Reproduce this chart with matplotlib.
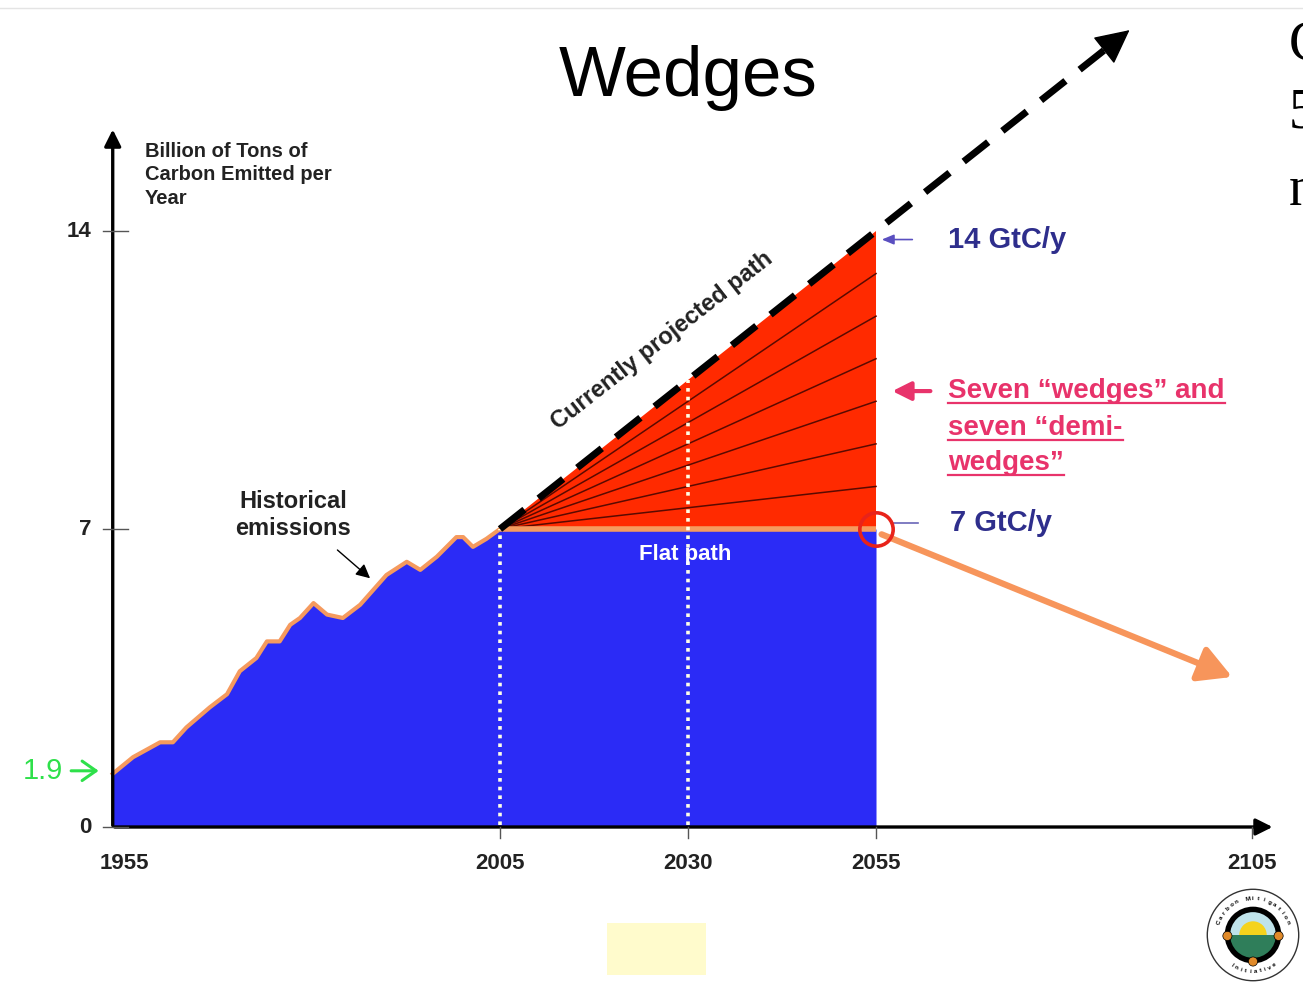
import numpy as np
import matplotlib
matplotlib.use("Agg")
import matplotlib.pyplot as plt
from matplotlib.patches import Polygon, Rectangle, Circle, Wedge

# --- data (GtC per year) ---
hist_years = [1953.5, 1956.2, 1959.8, 1961.5, 1963.3, 1966.4, 1968.7, 1970.4, 1972.6,
              1974.0, 1975.7, 1977.1, 1978.4, 1980.2, 1982.0, 1984.1, 1986.4, 1989.9,
              1992.6, 1994.4, 1996.6, 1999.2, 2000.1, 2001.4, 2003.2, 2005.0]
hist_vals = [1.25, 1.64, 1.99, 1.99, 2.34, 2.81, 3.12, 3.66, 3.97,
             4.36, 4.36, 4.75, 4.91, 5.26, 4.99, 4.91, 5.22, 5.92,
             6.23, 6.04, 6.35, 6.81, 6.81, 6.58, 6.77, 7.0]

flat_years = [2005, 2055]
flat_vals = [7, 7]

proj_years = [2005, 2055, 2089]
proj_vals = [7, 14, 18.76]

wedge_ends = [8, 9, 10, 11, 12, 13]   # boundaries between the seven wedges at 2055
marker_years = [2005, 2030]           # dotted verticals

decline_years = [2055, 2102.7]
decline_vals = [7, 3.5]

xticks = [1955, 2005, 2030, 2055, 2105]
yticks = [0, 7, 14]

BLUE = "#2B2BF6"
RED = "#FF2A00"
ORANGE = "#F59A5E"
DARK = "#222222"
NAVY = "#2E2E8C"
PINK = "#E8336B"
GREEN = "#2EE04A"
SANS = ["Liberation Sans", "DejaVu Sans"]

fig = plt.figure(figsize=(13.03, 9.88), dpi=100)
ax = fig.add_axes([0, 0, 1, 1])
ax.set_xlim(1938.51, 2111.78)
ax.set_ylim(-3.782, 19.427)
ax.axis("off")

x0 = 1953.5  # where the vertical axis sits

# blue area: history + flat path
ax.fill_between(hist_years + flat_years[1:], hist_vals + flat_vals[1:], 0,
                color=BLUE, lw=0, zorder=1)

# red triangle between flat path and projection
tri = Polygon([(proj_years[0], proj_vals[0]), (proj_years[1], proj_vals[1]),
               (flat_years[1], flat_vals[1])], closed=True, fc=RED, ec="none", zorder=2)
ax.add_patch(tri)
for v in wedge_ends:
    ax.plot([proj_years[0], flat_years[1]], [proj_vals[0], v], color="#5a0a00",
            lw=1.1, zorder=3)

ax.plot(flat_years, flat_vals, color=ORANGE, lw=4, solid_capstyle="butt", zorder=4)
ax.plot(hist_years, hist_vals, color=ORANGE, lw=3, zorder=4)

for yr in marker_years:
    top = np.interp(yr, proj_years, proj_vals)
    ax.plot([yr, yr], [0.05, top], color="#FFFFE6", lw=2.6,
            linestyle=(0, (1.0, 1.4)), zorder=5)

# dashed projection with arrow head
end_yr = 2085.3
ax.plot([proj_years[0], proj_years[1], end_yr],
        [proj_vals[0], proj_vals[1], np.interp(end_yr, proj_years, proj_vals)],
        color="black", lw=5, linestyle=(0, (4.5, 2.6)), zorder=6)
ax.annotate("", xy=(proj_years[-1], proj_vals[-1]),
            xytext=(2084.5, np.interp(2084.5, proj_years, proj_vals)),
            arrowprops=dict(arrowstyle="-|>,head_length=1.1,head_width=0.55",
                            color="black", lw=1, mutation_scale=20), zorder=6)

# decline path
ax.annotate("", xy=(decline_years[1], decline_vals[1]),
            xytext=(decline_years[0] + 0.4, decline_vals[0] - 0.1),
            arrowprops=dict(arrowstyle="-|>,head_length=1.0,head_width=0.55",
                            color="#F7955B", lw=4.5, mutation_scale=20), zorder=5)
ax.plot(flat_years[1], flat_vals[1], "o", ms=24, mfc="none", mec="#E8231A",
        mew=2.6, zorder=7)

# axes with arrows
ax.annotate("", xy=(x0, 16.45), xytext=(x0, -0.03),
            arrowprops=dict(arrowstyle="-|>,head_length=0.5,head_width=0.25",
                            color="black", lw=2.4, mutation_scale=20), zorder=8)
ax.annotate("", xy=(2108.1, 0), xytext=(x0 - 0.1, 0),
            arrowprops=dict(arrowstyle="-|>,head_length=0.5,head_width=0.25",
                            color="black", lw=2.4, mutation_scale=20), zorder=8)
for v in yticks:
    ax.plot([x0 - 1.3, x0 + 2.0], [v, v], color="#555555", lw=1, zorder=8)
    ax.text(1950.7, v, str(v), ha="right", va="center", fontsize=16,
            fontweight="bold", color=DARK, family=SANS)
for yr in xticks:
    if yr != xticks[0]:
        ax.plot([yr, yr], [0, -0.25], color="#555555", lw=1, zorder=8)
    ax.text(yr, -0.85, str(yr), ha="center", va="center", fontsize=16,
            fontweight="bold", color=DARK, family=SANS)

# texts
ax.text(2030, 17.6, "Wedges", ha="center", va="center", fontsize=51,
        color="black", family=SANS)
ax.text(1957.8, 16.1, "Billion of Tons of\nCarbon Emitted per\nYear", ha="left",
        va="top", fontsize=14.5, fontweight="bold", color=DARK, family=SANS,
        linespacing=1.3)
ax.text(1977.5, 7.33, "Historical\nemissions", ha="center", va="center",
        fontsize=17, fontweight="bold", color=DARK, family=SANS, linespacing=1.2)
ax.annotate("", xy=(1988.0, 5.80), xytext=(1983.1, 6.55),
            arrowprops=dict(arrowstyle="-|>,head_length=0.6,head_width=0.3",
                            color="black", lw=1, mutation_scale=14))
ax.text(2026.6, 11.42, "Currently projected path", ha="center", va="center",
        rotation=38, rotation_mode="anchor", fontsize=17, fontweight="bold",
        color=DARK, family=SANS)
ax.text(2029.6, 6.41, "Flat path", ha="center", va="center", fontsize=16,
        fontweight="bold", color="white", family=SANS, zorder=9)
ax.text(1946.9, 1.32, "1.9", ha="right", va="center", fontsize=21,
        color=GREEN, family=SANS)
ax.annotate("", xy=(1952.0, 1.32), xytext=(1947.6, 1.32),
            arrowprops=dict(arrowstyle="->,head_length=0.5,head_width=0.35",
                            color=GREEN, lw=2.2, mutation_scale=20))

ax.text(2064.6, 13.8, "14 GtC/y", ha="left", va="center", fontsize=21,
        fontweight="bold", color=NAVY, family=SANS)
ax.annotate("", xy=(2055.4, 13.8), xytext=(2060.2, 13.8),
            arrowprops=dict(arrowstyle="-|>,head_length=0.6,head_width=0.25",
                            color="#5A4FC0", lw=1.2, mutation_scale=12))
ax.text(2064.8, 7.15, "7 GtC/y", ha="left", va="center", fontsize=21,
        fontweight="bold", color=NAVY, family=SANS)
ax.plot([2057.3, 2060.6], [7.15, 7.15], color="#6A66B8", lw=1.2)

pink_lines = ["Seven \u201cwedges\u201d and", "seven \u201cdemi-", "wedges\u201d"]
pink_base = [10.08, 9.21, 8.39]
pink_texts = []
for s, b in zip(pink_lines, pink_base):
    pink_texts.append(ax.text(2064.6, b, s, ha="left", va="baseline", fontsize=20,
                              fontweight="bold", color=PINK, family=SANS))
ax.annotate("", xy=(2056.8, 10.24), xytext=(2062.6, 10.24),
            arrowprops=dict(arrowstyle="-|>,head_length=0.8,head_width=0.4",
                            color=PINK, lw=3, mutation_scale=14))

# cut-off letters of the slide text on the right edge
for s, v in zip(["C", "5", "n"], [18.35, 16.75, 14.95]):
    ax.text(2109.9, v, s, ha="left", va="center", fontsize=40,
            family=["Liberation Serif", "DejaVu Serif"], color="black")

ax.axhline(19.24, color="#e4e4e4", lw=1)
ax.add_patch(Rectangle((2019.2, -3.48), 13.2, 1.22, fc="#FFFBCC", ec="none"))

# underline the pink lines
fig.canvas.draw()
inv = ax.transData.inverted()
for t, b in zip(pink_texts, pink_base):
    bb = t.get_window_extent()
    xa = inv.transform((bb.x0, bb.y0))[0]
    xb = inv.transform((bb.x1, bb.y0))[0]
    ax.plot([xa, xb], [b - 0.11, b - 0.11], color=PINK, lw=1.6)

# logo
lax = fig.add_axes([1205 / 1303, 5 / 988, 96 / 1303, 96 / 988])
lax.set_xlim(-1.05, 1.05)
lax.set_ylim(-1.05, 1.05)
lax.set_aspect("equal")
lax.axis("off")
lax.add_patch(Circle((0, 0), 1.0, fc="white", ec="#333333", lw=1))
lax.add_patch(Circle((0, 0), 0.62, fc="black"))
lax.add_patch(Wedge((0, 0), 0.5, 0, 180, fc="#BFE3EA"))
lax.add_patch(Wedge((0, 0), 0.5, 180, 360, fc="#2F7E5A"))
lax.add_patch(Wedge((0, 0), 0.3, 0, 180, fc="#F5D31C"))
for cx, cy in [(-0.56, -0.02), (0.56, -0.02), (0, -0.58)]:
    lax.add_patch(Circle((cx, cy), 0.1, fc="#E08A2A", ec="black", lw=0.5))
top_word = "Carbon Mitigation"
for i, ch in enumerate(top_word):
    a = np.deg2rad(160 - i * 140 / (len(top_word) - 1))
    lax.text(0.8 * np.cos(a), 0.8 * np.sin(a), ch, fontsize=4.5, fontweight="bold",
             ha="center", va="center", rotation=np.rad2deg(a) - 90, family=SANS)
bot_word = "Initiative"
for i, ch in enumerate(bot_word):
    a = np.deg2rad(235 + i * 70 / (len(bot_word) - 1))
    lax.text(0.8 * np.cos(a), 0.8 * np.sin(a), ch, fontsize=4.5, fontweight="bold",
             ha="center", va="center", rotation=np.rad2deg(a) + 90, family=SANS)

fig.savefig("out.png", dpi=100, facecolor="white")
